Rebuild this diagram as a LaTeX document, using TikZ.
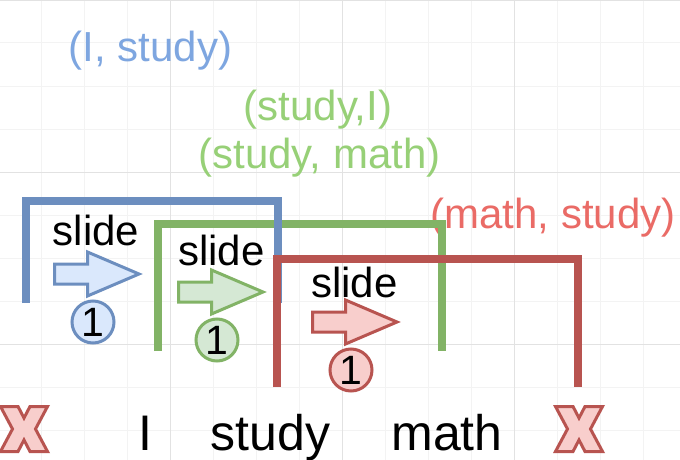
\documentclass[tikz,border=0pt]{standalone}
\usepackage{fontspec}
\setmainfont{Liberation Sans}
\definecolor{bluestroke}{HTML}{6C8EBF}
\definecolor{bluefill}{HTML}{DAE8FC}
\definecolor{greenstroke}{HTML}{82B366}
\definecolor{greenfill}{HTML}{D5E8D4}
\definecolor{redstroke}{HTML}{B85450}
\definecolor{redfill}{HTML}{F8CECC}
\definecolor{bluetext}{HTML}{7EA6E0}
\definecolor{greentext}{HTML}{97D077}
\definecolor{redtext}{HTML}{EA6B66}
\definecolor{gridminor}{HTML}{F3F3F3}
\definecolor{gridmajor}{HTML}{E2E2E2}
\begin{document}
\begin{tikzpicture}[x=1pt,y=-1pt,
  bracket/.style={line width=8pt, line join=miter, line cap=butt},
  pairlbl/.style={font=\fontsize{42}{42}\selectfont, anchor=base, inner sep=0},
  slidelbl/.style={font=\fontsize{42}{42}\selectfont, anchor=base, inner sep=0},
  wordlbl/.style={font=\fontsize{50}{50}\selectfont, anchor=base, inner sep=0},
  stepnum/.style={circle, draw, line width=3pt, minimum size=42pt, inner sep=0pt, font=\fontsize{41}{41}\selectfont},
  blockarr/.pic={\path[pic actions] (0,-10)--(33,-10)--(33,-22)--(84.5,0)--(33,22)--(33,10)--(0,10)--cycle;},
  crossmark/.pic={\path[pic actions] (1.5,1.5)--(19,1.5)--(25,13)--(31,1.5)--(48.5,1.5)--(36.5,24)--(48.5,46.5)--(31,46.5)--(25,35)--(19,46.5)--(1.5,46.5)--(13.5,24)--cycle;}
]
\useasboundingbox (0,0) rectangle (680,460);
\fill[white] (0,0) rectangle (680,460);
% grid
\foreach \gx in {41,84,...,680} \draw[gridminor, line width=1pt] (\gx,0)--(\gx,460);
\foreach \gy in {0,43,...,459} \draw[gridminor, line width=1pt] (0,\gy)--(680,\gy);
\foreach \gx in {170,342,514} \draw[gridmajor, line width=1pt] (\gx,0)--(\gx,460);
\foreach \gy in {0.5,172,344} \draw[gridmajor, line width=1pt] (0,\gy)--(680,\gy);

% pair labels
\node[pairlbl, text=bluetext] (pairA) at (150.5,62) {(I, study)};
\node[pairlbl, text=greentext] (pairB) at (318,120) {(study,I)};
\node[pairlbl, text=greentext] (pairC) at (319.5,168) {(study, math)};
\node[pairlbl, text=redtext] (pairD) at (553,228) {(math, study)};

% brackets
\draw[bracket, greenstroke] (158,351) -- (158,224) -- (442,224) -- (442,351);
\draw[bracket, bluestroke] (25.5,303) -- (25.5,201) -- (278,201) -- (278,303);
\draw[bracket, redstroke] (277,387) -- (277,259) -- (578,259) -- (578,387);

% slide arrows
\pic[draw=bluestroke, fill=bluefill, line width=3pt] at (54.5,274) {blockarr};
\pic[draw=greenstroke, fill=greenfill, line width=3pt] at (178.5,292) {blockarr};
\pic[draw=redstroke, fill=redfill, line width=3pt] at (312.5,322) {blockarr};

\node[slidelbl] (slideA) at (96,245) {slide};
\node[slidelbl] (slideB) at (221.5,265) {slide};
\node[slidelbl] (slideC) at (354.5,297) {slide};

% step circles
\node[stepnum, draw=bluestroke, fill=bluefill] (numA) at (93,322) {1};
\node[stepnum, draw=greenstroke, fill=greenfill] (numB) at (217,340) {1};
\node[stepnum, draw=redstroke, fill=redfill] (numC) at (351,370) {1};

% words
\node[wordlbl] (wI) at (145,450) {I};
\node[wordlbl] (wStudy) at (270.5,450) {study};
\node[wordlbl] (wMath) at (447,450) {math};

% crosses
\pic[draw=redstroke, fill=redfill, line width=3pt] at (-1,405) {crossmark};
\pic[draw=redstroke, fill=redfill, line width=3pt] at (554,405) {crossmark};
\end{tikzpicture}
\end{document}
